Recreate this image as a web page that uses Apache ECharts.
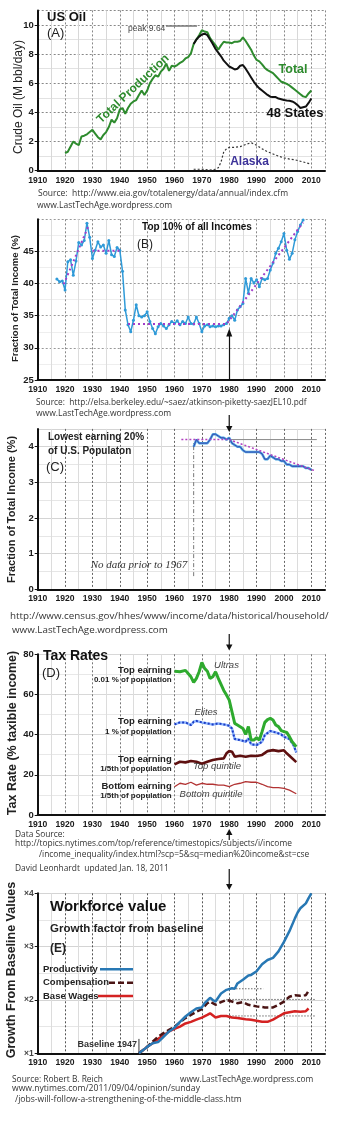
<!DOCTYPE html>
<html><head><meta charset="utf-8">
<script src="https://cdn.jsdelivr.net/npm/echarts@6/dist/echarts.min.js"></script>
<style>html,body{margin:0;padding:0;background:#fff}#c{width:341px;height:1121px}</style>
</head><body><div id="c"></div>
<script>
// ---------------- DATA ----------------
// (A) US oil, million bbl/day
const oilTotalYears = [1920,1921,1923,1924,1925,1926,1927,1928,1929,1930,1931,1932,1933,1934,1935,1936,1937,1938,1939,1940,1941,1942,1943,1944,1945,1946,1947,1948,1949,1950,1951,1952,1953,1954,1955,1956,1957,1958,1959,1960,1961,1962,1963,1964,1965,1966,1967,1968,1969,1970,1971,1972,1973,1974,1975,1976,1977,1978,1979,1980,1981,1982,1983,1984,1985,1986,1987,1988,1989,1990,1991,1992,1993,1994,1995,1996,1997,1998,1999,2000,2001,2002,2003,2004,2005,2006,2007,2008,2009,2010];
const oilTotal = [1.2,1.3,2.0,1.85,1.75,2.35,2.4,2.5,2.65,2.8,2.55,2.3,2.15,2.45,2.65,3.0,3.5,3.3,3.6,4.2,4.3,3.9,4.3,4.6,4.75,4.85,5.2,5.5,5.2,5.5,6.0,6.3,6.55,6.45,6.8,7.0,7.35,6.85,7.2,7.15,7.25,7.4,7.5,7.7,7.8,8.05,8.7,9.0,9.3,9.64,9.55,9.5,9.1,8.85,8.6,8.3,8.6,8.85,8.8,8.8,8.75,8.85,8.85,8.9,9.15,8.9,8.6,8.3,7.9,7.6,7.5,7.3,7.05,6.9,6.8,6.7,6.5,6.3,6.1,6.05,5.95,5.85,5.7,5.55,5.4,5.25,5.1,5.05,5.3,5.5];
const oil48Years = [1967,1968,1969,1970,1971,1972,1973,1974,1975,1976,1977,1978,1979,1980,1981,1982,1983,1984,1985,1986,1987,1988,1989,1990,1991,1992,1993,1994,1995,1996,1997,1998,1999,2000,2001,2002,2003,2004,2005,2006,2007,2008,2009,2010];
const oil48 = [8.7,9.0,9.2,9.35,9.4,9.3,9.0,8.7,8.35,8.1,7.85,7.55,7.35,7.15,7.05,6.95,7.0,7.2,7.25,7.0,6.7,6.4,6.1,5.85,5.65,5.5,5.35,5.2,5.08,5.05,5.05,4.95,4.9,4.85,4.82,4.8,4.75,4.65,4.5,4.3,4.35,4.4,4.65,4.95];
const alaskaYears = [1967,1970,1973,1975,1976,1977,1978,1979,1980,1982,1984,1986,1988,1990,1992,1994,1996,1998,2000,2002,2004,2006,2008,2010];
const alaska = [0.1,0.1,0.05,0.1,0.2,0.6,1.3,1.5,1.6,1.6,1.65,1.8,1.92,1.75,1.5,1.3,1.15,1.0,0.88,0.8,0.75,0.65,0.55,0.45];

// (B) top 10% share of income, %, annual from 1917
const top10Start = 1917;
const top10 = [40.7,40.3,40.4,39.0,43.4,43.7,41.3,43.5,46.4,46.0,46.7,49.4,47.2,43.9,45.2,46.5,45.7,46.0,44.7,46.7,44.5,44.2,45.6,45.2,41.9,35.9,33.6,32.5,34.3,36.7,35.0,34.8,35.0,35.6,34.1,33.0,32.2,33.3,33.8,33.4,33.0,33.6,34.1,33.8,34.2,33.6,34.1,33.8,34.8,33.8,33.7,34.8,33.8,32.5,33.4,33.6,33.3,33.4,33.3,33.4,33.4,33.6,33.8,34.6,35.0,34.3,35.9,36.4,36.9,40.8,38.5,40.8,40.1,40.6,39.5,40.8,40.6,40.8,42.1,43.2,44.7,45.5,46.5,47.8,45.2,43.8,44.7,46.8,48.1,49.1,49.9];
const top10TrendYears = [1919.5,1928.8,'-',1930,1940.5,'-',1943,1979,2007];
const top10Trend = [39.9,49.2,'-',45.1,45.1,'-',33.7,33.7,49.5];

// (C) lowest 20% share, %, annual from 1967
const low20Start = 1967;
const low20 = [4.0,4.2,4.1,4.1,4.1,4.1,4.2,4.35,4.35,4.3,4.25,4.25,4.2,4.25,4.1,4.05,4.0,4.0,3.9,3.85,3.85,3.85,3.85,3.85,3.85,3.8,3.65,3.65,3.75,3.7,3.65,3.65,3.6,3.6,3.5,3.5,3.45,3.45,3.45,3.45,3.45,3.4,3.4,3.35];
const low20TrendYears = [1962.5,1980,2011.5];
const low20Trend = [4.2,4.2,3.32];
const low20LevelYears = [1980,2012];
const low20Level = [4.2,4.2];
const noDataYears = [1967,1967];
const noDataSpan = [0.37,4.16];

// (D) tax rates, % of taxable income
const ultraYears = [1960,1962,1964,1966,1967,1968,1969,1970,1971,1972,1973,1974,1975,1976,1977,1978,1979,1980,1981,1982,1983,1985,1986,1987,1988,1989,1990,1991,1992,1993,1994,1995,1996,1997,1998,1999,2000,2001,2002,2003,2004.5];
const ultras = [71.6,71.3,72,68.8,66,68,71.3,76,73,71.6,68,68.8,71.3,68,65,62,59.7,57.2,51.4,45.6,44.8,43.1,40.1,44,37.3,37.3,38.5,37.3,41.5,46.1,47.5,48.1,47.3,44.8,44,42,41.5,41.1,39,36.5,34];
const eliteYears = [1960,1962,1964,1966,1967,1968,1970,1972,1974,1976,1978,1980,1981,1982,1984,1986,1987,1988,1990,1992,1993,1995,1997,1999,2000,2002,2003.5,2004.5];
const elites = [45.1,46.1,46.1,44.8,46.4,46.8,46.1,45.6,45.1,45.6,45.1,44.4,43.1,37.8,37.3,36.5,38.1,35.2,34.8,36.5,39.8,41.8,41.1,40.1,39,37.8,34.8,31.2];
const topQYears = [1960,1962,1964,1966,1968,1970,1972,1974,1976,1978,1979,1980,1981,1982,1984,1986,1988,1990,1992,1994,1996,1998,2000,2001,2002,2004.5];
const topQ = [25.2,26.5,26.2,26.9,26.5,25.5,26.5,27.4,27.9,28.2,30.7,31.8,31.5,29,29.5,29,29.5,29.4,29.9,31.8,32.3,31.8,32.2,30.7,29.5,26.3];
const botQYears = [1960,1962,1964,1966,1968,1970,1972,1974,1976,1978,1980,1982,1984,1986,1988,1990,1992,1994,1996,1998,2000,2002,2004.5];
const botQ = [14.1,15.8,15.3,16.3,14.9,15.8,15.3,15.3,14.9,14.9,14.1,15.3,15.8,16.6,16.3,16.3,15.3,14.1,13.6,13.6,13.3,12.4,10.6];

// (E) growth factor from 1947 baseline
const prodYears = [1947,1950,1952,1954,1956,1958,1960,1962,1964,1966,1968,1970,1971,1973,1974,1975,1977,1979,1981,1982,1983,1985,1987,1988,1990,1992,1994,1996,1998,2000,2002,2004,2005,2006,2008,2009,2010];
const productivity = [1.0,1.12,1.19,1.21,1.31,1.41,1.48,1.59,1.69,1.77,1.84,1.86,1.94,2.04,2.0,1.97,2.12,2.19,2.22,2.21,2.31,2.38,2.46,2.47,2.54,2.67,2.75,2.79,2.91,3.09,3.29,3.53,3.64,3.72,3.81,3.91,4.0];
const compYears = [1947,1950,1952,1954,1956,1958,1960,1962,1964,1966,1968,1970,1972,1973,1975,1977,1979,1981,1983,1985,1987,1990,1993,1996,1998,2000,2002,2004,2006,2008,2009];
const compensation = [1.0,1.12,1.22,1.31,1.38,1.44,1.5,1.58,1.66,1.72,1.78,1.83,1.94,1.97,1.91,1.96,2.0,1.97,1.94,1.96,1.91,1.88,1.86,1.86,1.91,1.97,2.06,2.09,2.08,2.09,2.17];
const wageYears = [1947,1950,1952,1954,1956,1958,1960,1962,1964,1966,1968,1970,1972,1973,1975,1977,1979,1981,1983,1986,1988,1990,1992,1994,1996,1998,2000,2002,2004,2006,2008,2009];
const wages = [1.0,1.12,1.19,1.27,1.34,1.41,1.46,1.5,1.56,1.59,1.63,1.67,1.72,1.75,1.67,1.7,1.7,1.67,1.66,1.64,1.63,1.61,1.59,1.59,1.63,1.69,1.75,1.77,1.79,1.78,1.79,1.84];
const refEYears = [1981.5,1992.5,'-',1979,2011.5,'-',1979,2011.5];
const refE = [2.21,2.21,'-',2.01,2.01,'-',1.70,1.70];
const baselineYears = [1947,1947];
const baselineSpan = [1,1.27];

const xTicks = {min:1910, max:2015, step:10};

// ---------------- HELPERS ----------------
const FA = "'Liberation Sans',Arial,sans-serif";
const FS = "'Open Sans','DejaVu Sans',sans-serif";
const zip = (xs, ys) => xs.map((x, i) => [x, ys[i]]);
const seq = (start, ys) => ys.map((y, i) => [start + i, y]);

const grids = [
  {top:10.4, height:160.3},
  {top:219.3, height:160.7},
  {top:428.9, height:160.4},
  {top:654.3, height:160.7},
  {top:893.3, height:160}
].map(g => Object.assign({left:37.7, right:16, outerBoundsMode:'none', containLabel:false}, g));

const gstyle = [
  {vx:'#888', vm:'#d8d8d8', hy:'#888', hm:'#e2e2e2'},
  {vx:'#888', vm:'#dcdcdc', hy:'#999', hm:'#eeeeee'},
  {vx:'#666', vm:'#dcdcdc', hy:'#d4d4d4', hm:'#e6e6e6'},
  {vx:'#777', vm:'#dcdcdc', hy:'#d8d8d8', hm:'#e8e8e8'},
  {vx:'#555', vm:'#dcdcdc', hy:'#d4d4d4', hm:'#e6e6e6'}
];

const xAxes = grids.map((g, i) => ({
  type:'value', gridIndex:i, min:xTicks.min, max:xTicks.max, interval:xTicks.step,
  axisLine:{onZero:false, lineStyle:{color:'#111', width:2}},
  axisTick:{show:false},
  axisLabel:{showMaxLabel:false, formatter:v => String(v), fontFamily:FA, fontWeight:'bold', fontSize:8.6, color:'#1a1a1a', margin:5},
  splitLine:{show:true, lineStyle:{color:gstyle[i].vx, type:[2,2], width:1}},
  minorTick:{show:false, splitNumber:2},
  minorSplitLine:{show:true, lineStyle:{color:gstyle[i].vm, width:1}}
}));

const ycfg = [
  {min:0, max:11, interval:2, fmt:v=>String(v)},
  {min:25, max:50, interval:5, fmt:v=>String(v)},
  {min:0, max:4.5, interval:1, fmt:v=>String(v)},
  {min:0, max:80, interval:20, fmt:v=>String(v)},
  {min:1, max:4, interval:1, fmt:v=>'\u00d7'+v}
];
const yAxes = ycfg.map((c, i) => ({
  type:'value', gridIndex:i, min:c.min, max:c.max, interval:c.interval,
  axisLine:{show:true, lineStyle:{color:'#111', width:2}},
  axisTick:{show:true, length:3, lineStyle:{color:'#111', width:1}},
  axisLabel:{showMaxLabel:(i===3 || i===4), formatter:c.fmt, fontFamily:FA, fontWeight:'bold',
    fontSize:(i===4?8.5:9.5), color:(i===4?'#444':'#1a1a1a'), margin:4},
  splitLine:{show:true, lineStyle:{color:gstyle[i].hy, type:(i<2?[2,2]:'solid'), width:1}},
  minorTick:{show:false, splitNumber:2},
  minorSplitLine:{show:true, lineStyle:{color:gstyle[i].hm, width:1}}
}));

function line(i, data, color, width, extra) {
  return Object.assign({
    type:'line', xAxisIndex:i, yAxisIndex:i, data:data, symbol:'none', silent:true,
    animation:false, connectNulls:false,
    lineStyle:{color:color, width:width}, itemStyle:{color:color}
  }, extra || {});
}

const series = [
  // A
  line(0, zip(oilTotalYears, oilTotal), '#2e8b2e', 2),
  line(0, zip(oil48Years, oil48), '#111', 2),
  line(0, zip(alaskaYears, alaska), '#333', 1.2, {lineStyle:{color:'#333', width:1.2, type:[2,2]}}),
  // B
  line(1, zip(top10TrendYears, top10Trend), '#a23dc9', 2, {lineStyle:{color:'#a23dc9', width:2, type:[2,3]}, z:3}),
  line(1, seq(top10Start, top10), '#2f9ad8', 1.5, {symbol:'circle', symbolSize:3, z:2,
    markLine:{silent:true, animation:false, symbol:['none','triangle'], symbolSize:[6,8],
      lineStyle:{color:'#111', width:1.2, type:'solid'}, label:{show:false},
      data:[[{coord:[1980,25]},{coord:[1980,32.4]}]]}}),
  // C
  line(2, zip(noDataYears, noDataSpan), '#777', 1, {lineStyle:{color:'#777', width:1, type:[4,2,1,2]}}),
  line(2, zip(low20LevelYears, low20Level), '#888', 1),
  line(2, seq(low20Start, low20), '#4aa6e0', 2.5),
  line(2, seq(low20Start, low20), '#3a45b0', 1),
  line(2, zip(low20TrendYears, low20Trend), '#b040c0', 1.5, {lineStyle:{color:'#b040c0', width:1.5, type:[2,2]}}),
  // D
  line(3, zip(botQYears, botQ), '#b23333', 1.3),
  line(3, zip(topQYears, topQ), '#5e1010', 2.6),
  line(3, zip(eliteYears, elites), '#8fb6ff', 2.5),
  line(3, zip(eliteYears, elites), '#1c3cc4', 2, {lineStyle:{color:'#1c3cc4', width:2, type:[2,2]}}),
  line(3, zip(ultraYears, ultras), '#2eaa2e', 3),
  // E
  line(4, zip(refEYears, refE), '#222', 1, {lineStyle:{color:'#222', width:1, type:[1,2]}}),
  line(4, zip(baselineYears, baselineSpan), '#333', 1),
  line(4, zip(wageYears, wages), '#d42222', 2.5),
  line(4, zip(compYears, compensation), '#4a1414', 2.5, {lineStyle:{color:'#4a1414', width:2.5, type:[6,3]}}),
  line(4, zip(prodYears, productivity), '#2878b4', 2.5)
];

const chart = echarts.init(document.getElementById('c'), null, {renderer:'canvas'});
chart.setOption({
  animation:false, backgroundColor:'#fff',
  grid:grids, xAxis:xAxes, yAxis:yAxes, series:series
});

// ---------------- ANNOTATIONS ----------------
function T(x, y, text, font, fill, align, rot) {
  return {type:'text', x:x, y:y, rotation:rot||0, silent:true, z:50,
    style:{text:text, font:font, fill:fill||'#222', align:align||'left', textAlign:align||'left',
      verticalAlign:'middle', textVerticalAlign:'middle'}};
}
const R90 = Math.PI/2;
const g = [];
// A
g.push(T(47, 17, 'US Oil', 'bold 13px '+FA, '#111'));
g.push(T(47, 33.5, '(A)', '13px '+FA, '#222'));
g.push(T(128, 29, 'peak 9.64', '8.5px '+FA, '#444'));
g.push({type:'line', silent:true, z:50, shape:{x1:166, y1:26, x2:197, y2:26}, style:{stroke:'#777', lineWidth:1.5}});
g.push(T(133, 89, 'Total Production', 'bold 12px '+FA, '#2e8b2e', 'center', 0.757));
g.push(T(293, 70, 'Total', 'bold 12.5px '+FA, '#2e8b2e', 'center'));
g.push(T(295, 113, '48 States', 'bold 13px '+FA, '#111', 'center'));
g.push(T(249.5, 162, 'Alaska', 'bold 12px '+FA, '#3d3399', 'center'));
g.push(T(19, 97, 'Crude Oil (M bbl/day)', '12px '+FA, '#222', 'center', R90));
g.push(T(38, 194, 'Source:  http://www.eia.gov/totalenergy/data/annual/index.cfm', '8.5px '+FS, '#333'));
g.push(T(37, 206, 'www.LastTechAge.wordpress.com', '8.5px '+FS, '#333'));
// B
g.push(T(197, 227, 'Top 10% of all Incomes', 'bold 10px '+FA, '#111', 'center'));
g.push(T(137, 245, '(B)', '12px '+FA, '#222'));
g.push(T(15, 298.5, 'Fraction of Total Income (%)', 'bold 9.5px '+FA, '#222', 'center', R90));
g.push(T(36, 403, 'Source:  http://elsa.berkeley.edu/~saez/atkinson-piketty-saezJEL10.pdf', '8.3px '+FS, '#333'));
g.push(T(36, 414, 'www.LastTechAge.wordpress.com', '8.5px '+FS, '#333'));
// C
g.push(T(48, 437.3, 'Lowest earning 20%', 'bold 10px '+FA, '#222'));
g.push(T(48, 451.3, 'of U.S. Populaton', 'bold 10px '+FA, '#222'));
g.push(T(46, 467, '(C)', '13px '+FA, '#222'));
g.push(T(139, 564.7, 'No data prior to 1967', 'italic 11px "Liberation Serif",serif', '#333', 'center'));
g.push(T(12, 509.5, 'Fraction of Total Income (%)', 'bold 11px '+FA, '#222', 'center', R90));
g.push(T(10, 616.7, 'http://www.census.gov/hhes/www/income/data/historical/household/', '9.8px '+FS, '#333'));
g.push(T(12, 630.7, 'www.LastTechAge.wordpress.com', '9.8px '+FS, '#333'));
// D
g.push(T(43, 655.7, 'Tax Rates', 'bold 14px '+FA, '#111'));
g.push(T(42, 673, '(D)', '13px '+FA, '#222'));
const dl = [['Top earning', 670, '0.01 % of population', 679.3], ['Top earning', 721.7, '1 % of population', 731.7],
            ['Top earning', 759.3, '1/5th of population', 769], ['Bottom earning', 786.7, '1/5th of population', 795.7]];
dl.forEach(d => {
  g.push(T(171.7, d[1], d[0], 'bold 9.5px '+FA, '#222', 'right'));
  g.push(T(171.7, d[3], d[2], 'bold 8px '+FA, '#222', 'right'));
});
g.push(T(226.5, 665.7, 'Ultras', 'italic 9.5px '+FA, '#444', 'center'));
g.push(T(206, 712.7, 'Elites', 'italic 9.5px '+FA, '#444', 'center'));
g.push(T(217, 766.7, 'Top quintile', 'italic 9.5px '+FA, '#444', 'center'));
g.push(T(211, 794.3, 'Bottom quintile', 'italic 9.5px '+FA, '#444', 'center'));
g.push(T(12.5, 733, 'Tax Rate (% taxible income)', 'bold 12.5px '+FA, '#222', 'center', R90));
g.push(T(15, 834.3, 'Data Source:', '8.4px '+FS, '#333'));
g.push(T(15, 844, 'http://topics.nytimes.com/top/reference/timestopics/subjects/i/income', '8.4px '+FS, '#333'));
g.push(T(39, 855, '/income_inequality/index.html?scp=5&sq=median%20income&st=cse', '8.4px '+FS, '#333'));
g.push(T(15, 868.3, 'David Leonhardt  updated Jan. 18, 2011', '8.4px '+FS, '#333'));
// E
g.push(T(50, 906.7, 'Workforce value', 'bold 15px '+FA, '#111'));
g.push(T(50, 929, 'Growth factor from baseline', 'bold 11.5px '+FA, '#222'));
g.push(T(50, 948.3, '(E)', 'bold 12px '+FA, '#222'));
g.push(T(43, 969.3, 'Productivity', 'bold 9.5px '+FA, '#222'));
g.push(T(43, 982.7, 'Compensation', 'bold 9.5px '+FA, '#222'));
g.push(T(43, 996, 'Base Wages', 'bold 9.5px '+FA, '#222'));
g.push({type:'line', silent:true, z:50, shape:{x1:100, y1:969.3, x2:133, y2:969.3}, style:{stroke:'#2878b4', lineWidth:2.5}});
g.push({type:'line', silent:true, z:50, shape:{x1:109, y1:982.7, x2:133, y2:982.7}, style:{stroke:'#4a1414', lineWidth:2.5, lineDash:[6,3]}});
g.push({type:'line', silent:true, z:50, shape:{x1:98, y1:996, x2:133, y2:996}, style:{stroke:'#d42222', lineWidth:2.5}});
g.push(T(137, 1044.3, 'Baseline 1947', 'bold 9px '+FA, '#333', 'right'));
g.push(T(12, 970, 'Growth From Baseline Values', 'bold 12.5px '+FA, '#222', 'center', R90));
g.push(T(12, 1079.3, 'Source: Robert B. Reich', '8.4px '+FS, '#333'));
g.push(T(180, 1079.3, 'www.LastTechAge.wordpress.com', '8.4px '+FS, '#333'));
g.push(T(12, 1089, 'www.nytimes.com/2011/09/04/opinion/sunday', '8.6px '+FS, '#333'));
g.push(T(15, 1099.3, '/jobs-will-follow-a-strengthening-of-the-middle-class.htm', '8.6px '+FS, '#333'));

// arrows at 1980 linking the panels
const xa = chart.convertToPixel({xAxisIndex:0}, 1980);
function arrow(y1, y2) {
  const dir = y2 > y1 ? 1 : -1;
  g.push({type:'line', silent:true, z:60, shape:{x1:xa, y1:y1, x2:xa, y2:y2 - dir*5}, style:{stroke:'#111', lineWidth:1.2}});
  g.push({type:'polygon', silent:true, z:60, shape:{points:[[xa-3.2, y2-dir*6],[xa+3.2, y2-dir*6],[xa, y2]]}, style:{fill:'#111'}});
}
arrow(415, 432);
arrow(634, 650.5);
arrow(840, 829);
arrow(869, 890);

chart.setOption({graphic:{elements:g}});
</script></body></html>
